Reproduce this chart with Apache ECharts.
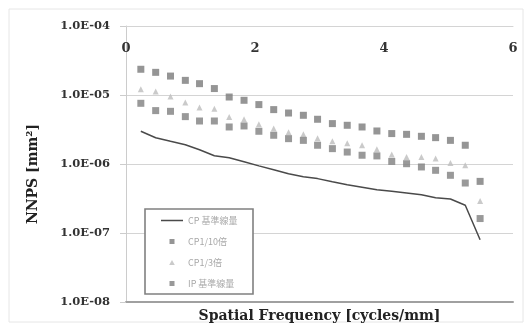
<!DOCTYPE html>
<html><head><meta charset="utf-8">
<script src="https://cdn.jsdelivr.net/npm/echarts@6/dist/echarts.min.js"></script>
<style>html,body{margin:0;padding:0;background:#fff}#c{width:532px;height:329px}</style>
</head><body><div id="c"></div>
<script>
const freq = [0.23,0.46,0.69,0.92,1.14,1.37,1.60,1.83,2.06,2.29,2.52,2.75,2.97,3.20,3.43,3.66,3.89,4.12,4.35,4.58,4.80,5.03,5.26,5.49];
const cpRef = [2.98e-6,2.4e-6,2.13e-6,1.9e-6,1.61e-6,1.32e-6,1.23e-6,1.08e-6,9.4e-7,8.24e-7,7.2e-7,6.52e-7,6.14e-7,5.52e-7,5.0e-7,4.6e-7,4.23e-7,4.02e-7,3.8e-7,3.58e-7,3.24e-7,3.11e-7,2.52e-7,8.0e-8];
const cp10 = [2.36e-5,2.13e-5,1.88e-5,1.63e-5,1.46e-5,1.24e-5,9.35e-6,8.38e-6,7.26e-6,6.14e-6,5.48e-6,5.08e-6,4.45e-6,3.85e-6,3.64e-6,3.44e-6,3.01e-6,2.76e-6,2.69e-6,2.52e-6,2.41e-6,2.20e-6,1.87e-6,5.6e-7];
const cp3 = [1.21e-5,1.12e-5,9.5e-6,7.8e-6,6.6e-6,6.3e-6,4.8e-6,4.45e-6,3.76e-6,3.26e-6,2.88e-6,2.69e-6,2.36e-6,2.13e-6,2.0e-6,1.87e-6,1.63e-6,1.37e-6,1.26e-6,1.26e-6,1.2e-6,1.03e-6,9.6e-7,2.9e-7];
const ipRef = [7.58e-6,5.94e-6,5.8e-6,4.86e-6,4.2e-6,4.2e-6,3.44e-6,3.56e-6,2.98e-6,2.61e-6,2.33e-6,2.2e-6,1.87e-6,1.67e-6,1.49e-6,1.34e-6,1.31e-6,1.09e-6,1.01e-6,9.06e-7,8.1e-7,6.86e-7,5.3e-7,1.62e-7];
const seriesNames = ['CP 基準線量','CP1/10倍','CP1/3倍','IP 基準線量'];
const xTickLabels = ['0','2','4','6'];
const yTickLabels = ['1.0E-08','1.0E-07','1.0E-06','1.0E-05','1.0E-04'];
const xTitle = 'Spatial Frequency [cycles/mm]';
const yTitle = 'NNPS [mm²]';

const pairs = arr => arr.map((v, i) => [freq[i], v]);
const serif = '"DejaVu Serif", "Liberation Serif", serif';
const box = 'M0,0 L0.01,0 L0,0.01 Z M22,8 L21.99,8 L22,7.99 Z ';
const icons = [
  'path://' + box + 'M0,3.3 L22,3.3 L22,4.7 L0,4.7 Z',
  'path://' + box + 'M8.5,1.5 L13.5,1.5 L13.5,6.5 L8.5,6.5 Z',
  'path://' + box + 'M11,1.5 L13.8,6.5 L8.2,6.5 Z',
  'path://' + box + 'M8.5,1.5 L13.5,1.5 L13.5,6.5 L8.5,6.5 Z'
];

const chart = echarts.init(document.getElementById('c'), null, {renderer: 'canvas'});
chart.setOption({
  animation: false,
  backgroundColor: '#fff',
  grid: {left: 126, right: 19, top: 26, bottom: 27},
  graphic: [
    {type: 'rect', z: -1, shape: {x: 9, y: 9, width: 514, height: 313}, style: {fill: 'none', stroke: '#e6e6e6', lineWidth: 1}},
    {type: 'rect', z: 3, shape: {x: 145, y: 209, width: 108, height: 85}, style: {fill: '#fff', stroke: '#808080', lineWidth: 1.6}}
  ],
  legend: {
    orient: 'vertical', left: 156, top: 211, z: 5,
    itemWidth: 22, itemHeight: 8, itemGap: 12,
    textStyle: {fontFamily: '"Noto Sans CJK JP", sans-serif', fontSize: 9, color: '#a8a8a8'},
    data: seriesNames.map((n, i) => ({name: n, icon: icons[i]}))
  },
  xAxis: [{
    type: 'value', position: 'top', min: 0, max: 6, interval: 2,
    axisLine: {show: true, onZero: false, lineStyle: {color: '#d4d4d4', width: 1}},
    axisTick: {show: false}, splitLine: {show: false},
    axisLabel: {inside: true, margin: 16, fontFamily: serif, fontWeight: 'bold', fontSize: 13, color: '#333',
      formatter: v => xTickLabels[Math.round(v / 2)] ?? ''}
  }, {
    type: 'value', position: 'bottom', min: 0, max: 6,
    axisLine: {show: true, onZero: false, lineStyle: {color: '#a0a0a0', width: 2}},
    axisTick: {show: false}, axisLabel: {show: false}, splitLine: {show: false},
    name: xTitle, nameLocation: 'middle', nameGap: 7,
    nameTextStyle: {fontFamily: serif, fontWeight: 'bold', fontSize: 14, color: '#222'}
  }],
  yAxis: {
    type: 'log', logBase: 10, min: 1e-8, max: 1e-4,
    axisLine: {show: true, lineStyle: {color: '#cccccc'}},
    axisTick: {show: true, length: 6, lineStyle: {color: '#cccccc'}},
    splitLine: {show: true, lineStyle: {color: '#d4d4d4', width: 1}},
    axisLabel: {margin: 16, fontFamily: serif, fontWeight: 'bold', fontSize: 11.5, color: '#333',
      formatter: v => yTickLabels[Math.round(Math.log10(v)) + 8] ?? ''},
    name: yTitle, nameLocation: 'middle', nameGap: 86, nameRotate: 90,
    nameTextStyle: {fontFamily: serif, fontWeight: 'bold', fontSize: 14, color: '#222', padding: [0, 20, 0, 0]}
  },
  series: [
    {name: seriesNames[0], type: 'line', data: pairs(cpRef), showSymbol: false, symbol: 'none',
      color: '#4a4a4a', lineStyle: {color: '#4a4a4a', width: 1.5}, z: 4},
    {name: seriesNames[1], type: 'scatter', data: pairs(cp10), symbol: 'rect', symbolSize: 7,
      itemStyle: {color: '#7a7a7a'}, z: 3},
    {name: seriesNames[2], type: 'scatter', data: pairs(cp3), symbol: 'triangle', symbolSize: 6,
      itemStyle: {color: '#bdbdbd'}, z: 2},
    {name: seriesNames[3], type: 'scatter', data: pairs(ipRef), symbol: 'rect', symbolSize: 7,
      itemStyle: {color: '#7f7f7f'}, z: 3}
  ]
});
</script>
</body></html>
